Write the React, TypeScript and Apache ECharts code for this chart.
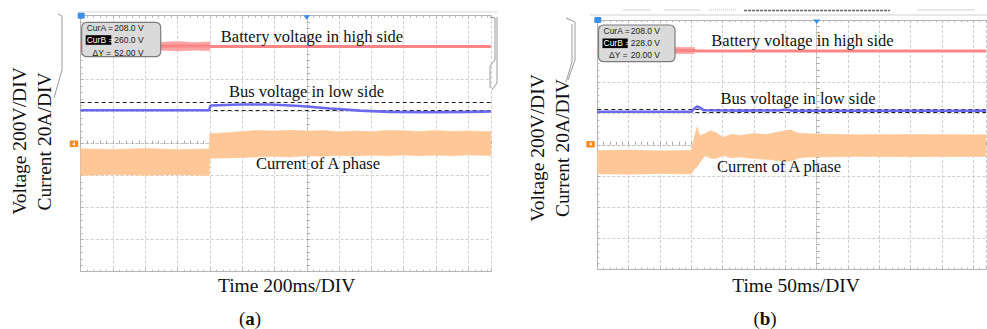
import React, { useEffect, useRef } from "react";
import * as echarts from "echarts";

// ---- Panel (a): time in ms (200 ms/DIV), voltage in V (200 V/DIV), current in A (20 A/DIV)
const batteryA = [[-1400, 610], [-600, 610], [-592, 608], [1140, 608]];
const batteryBandUpperA = [[-1400, 642], [-1300, 634], [-1200, 638], [-1100, 633], [-1000, 637], [-900, 634], [-800, 638], [-700, 633], [-600, 636]];
const batteryBandLowerA = [[-1400, 578], [-1300, 584], [-1200, 580], [-1100, 585], [-1000, 581], [-900, 584], [-800, 580], [-700, 584], [-600, 582]];
const busA = [[-1400, 209], [-605, 209], [-595, 239], [-413, 245], [-227, 245], [-41, 236], [144, 220], [330, 207], [516, 199], [763, 197], [1011, 199], [1140, 201]];
const cursorsA = [208, 260];
const currentUpperA = [[-1400, -3.2], [-1200, -3.6], [-1000, -3.0], [-800, -3.7], [-605, -3.3], [-600, 6.2], [-500, 6.8], [-400, 7.6], [-300, 8.3], [-200, 8.0], [-100, 8.4], [0, 7.9], [100, 8.2], [200, 7.4], [300, 7.9], [400, 7.5], [500, 8.3], [600, 8.1], [700, 7.6], [800, 8.2], [900, 7.7], [1000, 8.0], [1140, 7.4]];
const currentLowerA = [[-1400, -19.8], [-1200, -19.3], [-1000, -19.7], [-800, -19.4], [-605, -19.9], [-600, -9.1], [-500, -8.9], [-400, -8.6], [-300, -8.2], [-200, -7.9], [-100, -8.3], [0, -7.6], [100, -7.9], [200, -7.3], [300, -7.7], [400, -7.2], [500, -7.6], [600, -7.1], [700, -7.5], [800, -7.2], [900, -7.6], [1000, -7.1], [1140, -7.4]];

// ---- Panel (b): time in ms (50 ms/DIV)
const batteryB = [[-350, 604], [-195, 604], [-190, 602], [270, 602]];
const batteryBandUpperB = [[-350, 627], [-320, 622], [-290, 626], [-260, 621], [-230, 625], [-195, 624]];
const batteryBandLowerB = [[-350, 582], [-320, 586], [-290, 583], [-260, 587], [-230, 584], [-195, 585]];
const busB = [[-350, 212], [-200, 212], [-196, 230], [-191, 246], [-186, 238], [-180, 221], [-120, 219], [-60, 220], [-49, 226], [-40, 219], [100, 218], [270, 218]];
const cursorsB = [208, 228];
const currentUpperB = [[-350, -3.7], [-300, -3.4], [-250, -3.9], [-200, -3.6], [-197, 2.0], [-191, 11.3], [-186, 6.0], [-178, 7.1], [-170, 9.0], [-162, 8.1], [-149, 4.9], [-135, 6.8], [-122, 6.0], [-100, 7.2], [-80, 6.6], [-63, 8.1], [-42, 9.6], [-30, 7.5], [-15, 7.1], [20, 6.8], [65, 6.4], [150, 6.6], [270, 6.4]];
const currentLowerB = [[-350, -18.6], [-300, -18.9], [-250, -18.4], [-200, -18.7], [-195, -15.5], [-191, -14.2], [-186, -11.2], [-178, -6.9], [-170, -8.5], [-162, -9.0], [-149, -6.9], [-135, -8.4], [-122, -7.9], [-100, -8.8], [-80, -9.3], [-63, -10.1], [-42, -10.5], [-30, -8.6], [-15, -7.9], [20, -7.7], [65, -7.5], [150, -7.6], [270, -7.5]];

const RED = "#f98585";
const RED_BAND = "#fba3a3";
const BLUE = "#6a6aee";
const ORANGE = "#fdc797";
const GRIDC = "#cfcfcf";
const SERIF = "Liberation Serif, Times New Roman, serif";
const SANS = "Liberation Sans, Arial, sans-serif";

function band(upper: number[][], lower: number[][], xIdx: number, yIdx: number, color: string, z: number) {
  const pts = [...upper, ...lower.slice().reverse()];
  return {
    type: "custom",
    xAxisIndex: xIdx,
    yAxisIndex: yIdx,
    silent: true,
    z,
    data: pts,
    renderItem: (params: any, api: any) => {
      if (params.dataIndexInside !== 0) return null;
      const n = params.dataInsideLength;
      const points: number[][] = [];
      for (let i = 0; i < n; i++) points.push(api.coord([api.value(0, i), api.value(1, i)]));
      return { type: "polygon", shape: { points }, style: { fill: color, stroke: color, lineWidth: 0.6 } };
    },
  };
}

function line(data: number[][], xIdx: number, yIdx: number, color: string, width: number, z: number) {
  return {
    type: "line", xAxisIndex: xIdx, yAxisIndex: yIdx, data, showSymbol: false, symbol: "none",
    silent: true, z, lineStyle: { color, width }, clip: true,
  };
}

function cursors(values: number[], xIdx: number, yIdx: number) {
  return {
    type: "line", xAxisIndex: xIdx, yAxisIndex: yIdx, data: [], silent: true, z: 6,
    markLine: {
      silent: true, symbol: "none", label: { show: false },
      lineStyle: { color: "#222", type: [4, 3], width: 1 },
      data: values.map((v) => ({ yAxis: v })),
    },
  };
}

function xAxes(grid: number, min: number, max: number, interval: number) {
  const base = { type: "value", gridIndex: grid, min, max, interval, axisLabel: { show: false } };
  return [
    { ...base, position: "bottom", axisLine: { onZero: false, lineStyle: { color: "#b5b5b5" } },
      axisTick: { inside: true, length: 3, lineStyle: { color: "#b5b5b5" } },
      minorTick: { show: true, splitNumber: 5, length: 2, lineStyle: { color: "#b5b5b5" } },
      splitLine: { show: true, lineStyle: { color: GRIDC, type: [3, 2], width: 1 } } },
    { ...base, position: "top", axisLine: { onZero: false, lineStyle: { color: "#b5b5b5" } },
      axisTick: { inside: true, length: 3, lineStyle: { color: "#b5b5b5" } },
      minorTick: { show: true, splitNumber: 5, length: 2, lineStyle: { color: "#b5b5b5" } },
      splitLine: { show: false } },
    { ...base, position: "bottom", axisLine: { onZero: true, lineStyle: { color: "#c4c4c4", type: [3, 2] } },
      axisTick: { inside: true, length: 3, lineStyle: { color: "#a8a8a8" } },
      minorTick: { show: true, splitNumber: 5, length: 3, lineStyle: { color: "#a8a8a8" } },
      splitLine: { show: false } },
  ];
}

function yAxes(grid: number) {
  return [
    { type: "value", gridIndex: grid, min: -800, max: 800, interval: 200, position: "left", axisLabel: { show: false },
      axisLine: { onZero: false, lineStyle: { color: "#b5b5b5" } },
      axisTick: { inside: true, length: 3, lineStyle: { color: "#b5b5b5" } },
      minorTick: { show: true, splitNumber: 5, length: 2, lineStyle: { color: "#b5b5b5" } },
      splitLine: { show: true, lineStyle: { color: GRIDC, type: [3, 2], width: 1 } } },
    { type: "value", gridIndex: grid, min: -80, max: 80, interval: 20, show: false,
      axisLine: { onZero: false }, splitLine: { show: false } },
    { type: "value", gridIndex: grid, min: -800, max: 800, interval: 200, position: "left", axisLabel: { show: false },
      axisLine: { onZero: true, lineStyle: { color: "#c4c4c4", type: [3, 2] } },
      axisTick: { inside: true, length: 3, lineStyle: { color: "#a8a8a8" } },
      minorTick: { show: true, splitNumber: 5, length: 3, lineStyle: { color: "#a8a8a8" } },
      splitLine: { show: false } },
  ];
}

function txt(x: number, y: number, text: string, size: number, extra: any = {}) {
  return {
    type: "text", x, y, z: 20, silent: true, ...extra,
    style: { text, fill: "#111", font: `${size}px ${SERIF}`, textAlign: "center", textVerticalAlign: "middle", ...(extra.style || {}) },
  };
}

function cursorBox(x: number, y: number, w: number, h: number, lx: number, dx: number, vx: number, rows: number[], vals: string[]) {
  const f = `8.5px ${SANS}`;
  return [
    { type: "rect", z: 21, shape: { x, y, width: w, height: h, r: 5 }, style: { fill: "#dadada", stroke: "#7c7c7c", lineWidth: 1.2 } },
    { type: "text", z: 22, x: lx, y: rows[0], style: { text: "CurA =", font: f, fill: "#222", textVerticalAlign: "middle" } },
    { type: "rect", z: 22, shape: { x: lx - 1, y: rows[1] - 4.8, width: vx - lx - 2, height: 9.6 }, style: { fill: "#000" } },
    { type: "text", z: 23, x: lx, y: rows[1], style: { text: "CurB =", font: f, fill: "#fff", textVerticalAlign: "middle" } },
    { type: "text", z: 22, x: dx, y: rows[2], style: { text: "\u0394Y =", font: f, fill: "#222", textVerticalAlign: "middle" } },
    ...vals.map((v, i) => ({ type: "text", z: 22, x: vx, y: rows[i], style: { text: v, font: f, fill: "#222", textVerticalAlign: "middle" } })),
  ];
}

function markers(left: number, top: number, cx: number, cy: number) {
  return [
    { type: "rect", z: 22, shape: { x: left - 3, y: top - 3, width: 7, height: 6, r: 1 }, style: { fill: "#3d8fe8" } },
    { type: "polygon", z: 22, shape: { points: [[cx - 3.5, top - 0.5], [cx + 3.5, top - 0.5], [cx, top + 4]] }, style: { fill: "#3d8fe8" } },
    { type: "rect", z: 22, shape: { x: left - 11, y: cy - 3.2, width: 8.5, height: 6.4, r: 1 }, style: { fill: "#f58a1f" } },
    { type: "text", z: 23, x: left - 6.7, y: cy, style: { text: "4", font: `bold 5px ${SANS}`, fill: "#fff", textAlign: "center", textVerticalAlign: "middle" } },
  ];
}

export default function App() {
  const ref = useRef<HTMLDivElement>(null);
  useEffect(() => {
    if (!ref.current) return;
    const chart = echarts.init(ref.current, null, { renderer: "svg" });
    const gridA = { left: 80.7, top: 15.7, width: 410.2, height: 256 };
    const gridB = { left: 597.3, top: 20, width: 388.6, height: 249.6 };
    const gray = { stroke: "#9a9a9a", lineWidth: 1, fill: "none" };
    const option: any = {
      animation: false,
      backgroundColor: "#fff",
      grid: [gridA, gridB],
      xAxis: [...xAxes(0, -1400, 1140, 200), ...xAxes(1, -350, 270, 50)],
      yAxis: [...yAxes(0), ...yAxes(1)],
      series: [
        band(batteryBandUpperA, batteryBandLowerA, 0, 0, RED_BAND, 3),
        line(batteryA, 0, 0, RED, 3, 4),
        line(busA, 0, 0, BLUE, 2.6, 5),
        cursors(cursorsA, 0, 0),
        band(currentUpperA, currentLowerA, 0, 1, ORANGE, 7),
        band(batteryBandUpperB, batteryBandLowerB, 3, 3, RED_BAND, 3),
        line(batteryB, 3, 3, RED, 3, 4),
        line(busB, 3, 3, BLUE, 2.6, 5),
        cursors(cursorsB, 3, 3),
        band(currentUpperB, currentLowerB, 3, 4, ORANGE, 7),
      ],
      graphic: [
        // scope frame bits
        { type: "line", z: 15, shape: { x1: 78, y1: 12, x2: 497, y2: 12 }, style: { stroke: "#d8d8d8", lineWidth: 1 } },
        { type: "polyline", z: 15, shape: { points: [[490, 88], [490, 66], [495, 60], [495, 18], [490, 17]] }, style: { ...gray } },
        { type: "polyline", z: 15, shape: { points: [[492, 90], [497, 83], [497, 17]] }, style: { ...gray } },
        { type: "polyline", z: 15, shape: { points: [[58, 14], [62, 16], [62, 70], [54, 98]] }, style: { ...gray } },
        { type: "line", z: 15, shape: { x1: 590, y1: 15, x2: 987, y2: 15 }, style: { stroke: "#d0d0d0", lineWidth: 1 } },
        { type: "line", z: 15, shape: { x1: 623, y1: 10, x2: 650, y2: 10 }, style: { stroke: "#cfcfcf", lineWidth: 1 } },
        { type: "line", z: 15, shape: { x1: 664, y1: 10, x2: 700, y2: 10 }, style: { stroke: "#cfcfcf", lineWidth: 1 } },
        { type: "line", z: 15, shape: { x1: 709, y1: 10, x2: 736, y2: 10 }, style: { stroke: "#bdbdbd", lineWidth: 1, lineDash: [1, 1] } },
        { type: "line", z: 15, shape: { x1: 744, y1: 10.5, x2: 890, y2: 10.5 }, style: { stroke: "#666", lineWidth: 1.5, lineDash: [3, 1] } },
        { type: "line", z: 15, shape: { x1: 918, y1: 10, x2: 975, y2: 10 }, style: { stroke: "#cfcfcf", lineWidth: 1 } },
        { type: "polyline", z: 15, shape: { points: [[566, 18], [575, 22], [575, 60], [568, 80]] }, style: { ...gray } },
        { type: "polyline", z: 15, shape: { points: [[566, 82], [572, 62], [572, 24]] }, style: { ...gray } },
        ...markers(80.7, 15.7, 306.7, 143.7),
        ...markers(597.3, 20, 816.7, 144.3),
        ...cursorBox(81.7, 22.3, 79, 34.4, 86.7, 92.5, 114.3, [27.5, 40, 52.5], ["208.0 V", "260.0 V", "52.00 V"]),
        ...cursorBox(598.5, 25, 76.5, 36.7, 603.5, 609, 630.7, [30.8, 43.3, 55.3], ["208.0 V", "228.0 V", "20.00 V"]),
        // trace annotations
        txt(312, 36, "Battery voltage in high side", 16.5),
        txt(306.5, 91, "Bus voltage in low side", 16.5),
        txt(318, 163.5, "Current of A phase", 16.5),
        txt(802.5, 40.5, "Battery voltage in high side", 16.5),
        txt(798, 98.5, "Bus voltage in low side", 16.5),
        txt(779, 166.5, "Current of A phase", 16.5),
        // axis titles
        txt(19, 141, "Voltage 200V/DIV", 19.5, { rotation: Math.PI / 2 }),
        txt(44, 141.5, "Current 20A/DIV", 19.5, { rotation: Math.PI / 2 }),
        txt(537, 148, "Voltage 200V/DIV", 19.5, { rotation: Math.PI / 2 }),
        txt(562, 148, "Current 20A/DIV", 19.5, { rotation: Math.PI / 2 }),
        txt(286.7, 285, "Time 200ms/DIV", 19.5),
        txt(796, 285, "Time 50ms/DIV", 19.5),
        {
          type: "text", x: 250, y: 318, z: 20, silent: true,
          style: {
            text: "{n|(}{b|a}{n|)}", textAlign: "center", textVerticalAlign: "middle",
            rich: { n: { font: `19px ${SERIF}`, fill: "#111" }, b: { font: `bold 19px ${SERIF}`, fill: "#111" } },
          },
        },
        {
          type: "text", x: 765, y: 318, z: 20, silent: true,
          style: {
            text: "{n|(}{b|b}{n|)}", textAlign: "center", textVerticalAlign: "middle",
            rich: { n: { font: `19px ${SERIF}`, fill: "#111" }, b: { font: `bold 19px ${SERIF}`, fill: "#111" } },
          },
        },
      ],
    };
    chart.setOption(option);
    return () => chart.dispose();
  }, []);
  return <div ref={ref} style={{ position: "absolute", left: 0, top: 0, width: 987, height: 329 }} />;
}
